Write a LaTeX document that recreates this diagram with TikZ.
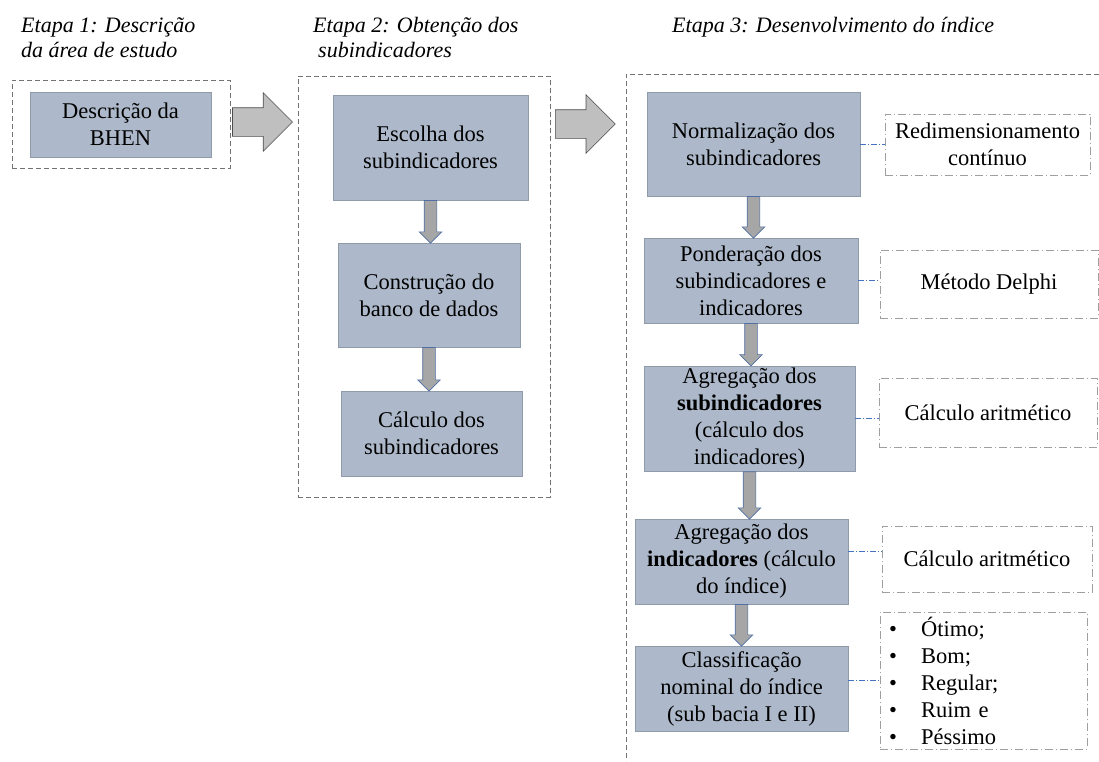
\documentclass[tikz,border=0pt]{standalone}
\usepackage{fontspec}
\setmainfont{Liberation Serif}
\usetikzlibrary{shapes.arrows,calc}

\definecolor{boxblue}{HTML}{ADB9CA}
\definecolor{boxedge}{HTML}{909BAA}
\definecolor{shaftgray}{HTML}{A6A6A6}
\definecolor{shaftblue}{HTML}{4F6FA5}
\definecolor{blockgray}{HTML}{BFBFBF}
\definecolor{linkblue}{HTML}{4472C4}

% fat arrow from the bottom of one box to the top of the next
\newcommand{\stepdown}[2]{%
  \path let \p1=(#1.south), \p2=(#2.north) in
    node[downarr, minimum height={\y1-\y2}, anchor=tail] at (\p1) {};}

\begin{document}
\begin{tikzpicture}[x=1pt, y=1pt,
  body/.style={font=\fontsize{22.5}{27}\selectfont},
  title/.style={font=\fontsize{22}{25}\selectfont\itshape, inner sep=0pt, align=left},
  task/.style={body, draw=boxedge, fill=boxblue, align=center, inner sep=2pt},
  method/.style={body, draw=gray!75, dash pattern=on 8pt off 3pt on 1pt off 3pt, align=center, inner sep=2pt},
  stagebox/.style={draw=gray!90!black, dash pattern=on 5pt off 3pt, thin},
  link/.style={draw=linkblue, dash pattern=on 6pt off 2pt on 1pt off 2pt, thin},
  downarr/.style={single arrow, rotate=-90, fill=shaftgray, draw=shaftblue, semithick,
    inner sep=6pt, single arrow head extend=5pt},
  blockarr/.style={single arrow, fill=blockgray, draw=gray!60!black, semithick,
    inner sep=14pt, single arrow head extend=15pt}]
  \useasboundingbox (0,0) rectangle (1099,-761);

  % titles
  \node[title, anchor=base west] (t1) at (21,-57) {Etapa 1: Descrição\\da área de estudo};
  \node[title, anchor=base west] (t2) at (313,-57) {Etapa 2: Obtenção dos\\\hspace*{5pt}subindicadores};
  \node[title, anchor=base west] (t3) at (672,-32) {Etapa 3: Desenvolvimento do índice};

  % stage 1
  \node[stagebox, minimum width=218, minimum height=88] (stage1) at (121,-124) {};
  \node[task, minimum width=181, minimum height=65] (desc) at (120.5,-124.5) {Descrição da\\BHEN};

  % stage 2
  \node[stagebox, minimum width=252, minimum height=421] (stage2) at (424,-286.5) {};
  \node[task, minimum width=195, minimum height=105] (escolha) at (430.5,-147.5) {Escolha dos\\subindicadores};
  \node[task, minimum width=182, minimum height=104] (banco) at (429,-295) {Construção do\\banco de dados};
  \node[task, minimum width=181, minimum height=85] (calc) at (431.5,-433.5) {Cálculo dos\\subindicadores};
  \stepdown{escolha}{banco}
  \stepdown{banco}{calc}

  % stage 3
  \coordinate (s3top) at (1099,-74);
  \coordinate (s3bot) at (626,-761);
  \draw[stagebox] (s3top) -| (s3bot);
  \node[task, minimum width=213, minimum height=104] (normal) at (753.5,-144) {Normalização dos\\subindicadores};
  \node[task, minimum width=214, minimum height=85] (ponder) at (751,-280.5) {Ponderação dos\\subindicadores e\\indicadores};
  \node[task, minimum width=211, minimum height=105] (agsub) at (749.5,-418.5) {Agregação dos\\\textbf{subindicadores}\\(cálculo dos\\indicadores)};
  \node[task, minimum width=213, minimum height=85] (agind) at (741.5,-561.5) {Agregação dos\\\textbf{indicadores} (cálculo\\do índice)};
  \node[task, minimum width=213, minimum height=85] (classif) at (741.5,-688.5) {Classificação\\nominal do índice\\(sub bacia I e II)};
  \stepdown{normal}{ponder}
  \stepdown{ponder}{agsub}
  \stepdown{agsub}{agind}
  \stepdown{agind}{classif}

  % methods
  \node[method, minimum width=205, minimum height=61] (redim) at (987.5,-144.5) {Redimensionamento\\contínuo};
  \node[method, minimum width=218, minimum height=68] (delphi) at (989,-284) {Método Delphi};
  \node[method, minimum width=218, minimum height=69] (arit1) at (988,-412.5) {Cálculo aritmético};
  \node[method, minimum width=210, minimum height=66] (arit2) at (987,-559) {Cálculo aritmético};
  \node[method, text width=189, minimum height=137, inner xsep=9pt, align=left] (classes) at (983.5,-680.5)
    {\makebox[32pt][l]{\textbullet}Ótimo;\\\makebox[32pt][l]{\textbullet}Bom;\\\makebox[32pt][l]{\textbullet}Regular;\\\makebox[32pt][l]{\textbullet}Ruim e\\\makebox[32pt][l]{\textbullet}Péssimo};
  \draw[link] (normal.east) -- (normal.east -| redim.west);
  \draw[link] (ponder.east) -- (ponder.east -| delphi.west);
  \draw[link] (agsub.east) -- (agsub.east -| arit1.west);
  \draw[link] ([yshift=10pt]agind.east) -- ([yshift=10pt]agind.east -| arit2.west);
  \draw[link] ([yshift=8pt]classif.east) -- ([yshift=8pt]classif.east -| classes.west);

  % between stages
  \node[blockarr, minimum height=60, anchor=tail] (go1) at ($(stage1.east)+(2,2)$) {};
  \node[blockarr, minimum height=60, anchor=tail] (go2) at (555,-124) {};
\end{tikzpicture}
\end{document}
